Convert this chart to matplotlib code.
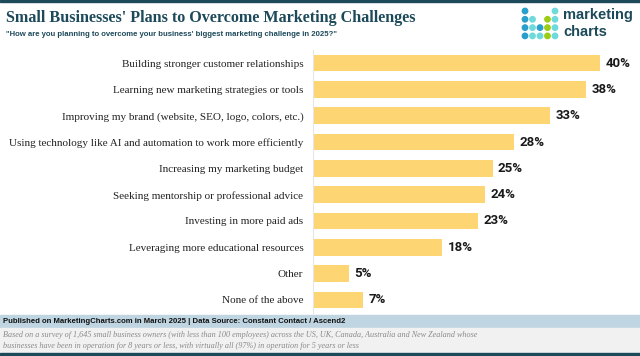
import matplotlib.pyplot as plt
from matplotlib.patches import Rectangle, Ellipse
from matplotlib import font_manager

# data
categories = [
    "Building stronger customer relationships",
    "Learning new marketing strategies or tools",
    "Improving my brand (website, SEO, logo, colors, etc.)",
    "Using technology like AI and automation to work more efficiently",
    "Increasing my marketing budget",
    "Seeking mentorship or professional advice",
    "Investing in more paid ads",
    "Leveraging more educational resources",
    "Other",
    "None of the above",
]
values = [40, 38, 33, 28, 25, 24, 23, 18, 5, 7]
value_labels = [f"{v}%" for v in values]

title = "Small Businesses' Plans to Overcome Marketing Challenges"
subtitle = '"How are you planning to overcome your business\' biggest marketing challenge in 2025?"'
source = "Published on MarketingCharts.com in March 2025 | Data Source: Constant Contact / Ascend2"
note = ("Based on a survey of 1,645 small business owners (with less than 100 employees) across the US, UK, "
        "Canada, Australia and New Zealand whose\nbusinesses have been in operation for 8 years or less, "
        "with virtually all (97%) in operation for 5 years or less")

# narrow font if the system has one
names = {f.name for f in font_manager.fontManager.ttflist}
narrow = 'Liberation Sans Narrow' if 'Liberation Sans Narrow' in names else 'Liberation Sans'

W, H = 640, 356
teal = '#1d4a5a'
bar_color = '#fdd673'

fig = plt.figure(figsize=(6.4, 3.56), dpi=100)

def fx(px):
    return px / W

def fy(py):
    return 1 - py / H

# top rule
fig.patches.append(Rectangle((0, fy(2)), 1, 2 / H, transform=fig.transFigure,
                             color=teal, zorder=0))

fig.text(fx(6), fy(18), title, fontsize=11.6, fontweight='bold', color=teal,
         family=['Liberation Serif'], va='center', ha='left')
fig.text(fx(6), fy(35), subtitle, fontsize=5.6, fontweight='bold', color=teal,
         family=[narrow, 'DejaVu Sans'], va='center', ha='left')

# logo dots
dot_blue = '#2a9fcb'
dot_cyan = '#6fdadb'
dot_green = '#9ccc16'
logo = [
    [dot_blue, None, None, None, dot_cyan],
    [dot_blue, dot_cyan, None, dot_green, dot_cyan],
    [dot_blue, dot_cyan, dot_blue, dot_green, dot_cyan],
    [dot_blue, dot_cyan, dot_cyan, dot_green, dot_cyan],
]
for r, row in enumerate(logo):
    for c, col in enumerate(row):
        if col:
            fig.patches.append(Ellipse((fx(525 + c * 7.5), fy(11 + r * 8.3)), 5.4 / W, 5.4 / H,
                                       transform=fig.transFigure, color=col))
fig.text(fx(563), fy(15), "marketing", fontsize=10.5, fontweight='bold', color=teal,
         family=['Liberation Sans'], va='center', ha='left')
fig.text(fx(563), fy(32), "charts", fontsize=10.5, fontweight='bold', color=teal,
         family=['Liberation Sans'], va='center', ha='left')

# bar axes
ax = fig.add_axes([fx(313), fy(313), 1 - fx(313), (313 - 50) / H])
y = list(range(len(categories)))
ax.barh(y, values, height=0.63, color=bar_color)
ax.set_ylim(len(categories) - 0.5, -0.5)
ax.set_xlim(0, 45.5)
ax.set_yticks(y)
ax.set_yticklabels(categories, fontsize=8.0, color='#222222', family=['Liberation Serif'])
ax.tick_params(axis='y', length=0, pad=7)
ax.set_xticks([])
for s in ['top', 'right', 'bottom']:
    ax.spines[s].set_visible(False)
ax.spines['left'].set_color('#e6e6e6')
for yi, v, lab in zip(y, values, value_labels):
    ax.text(v + 0.7, yi, lab, va='center', ha='left', fontsize=9.5, fontweight='bold',
            color='#1a1a1a', family=['Roboto', 'DejaVu Sans'])

# footer
fig.patches.append(Rectangle((0, fy(328)), 1, 13 / H, transform=fig.transFigure,
                             color='#bfd5e1', zorder=0))
fig.patches.append(Rectangle((0, fy(353)), 1, 25 / H, transform=fig.transFigure,
                             color='#f1f1f1', zorder=0))
fig.patches.append(Rectangle((0, 0), 1, 3 / H, transform=fig.transFigure,
                             color=teal, zorder=0))
fig.text(fx(3), fy(321.5), source, fontsize=5.6, fontweight='bold', color='#111111',
         family=[narrow, 'DejaVu Sans'], va='center', ha='left')
fig.text(fx(3), fy(340.5), note, fontsize=5.9, style='italic', color='#8a8a8a',
         family=['Liberation Serif'], va='center', ha='left', linespacing=1.55)

fig.savefig('out.png', dpi=100)
